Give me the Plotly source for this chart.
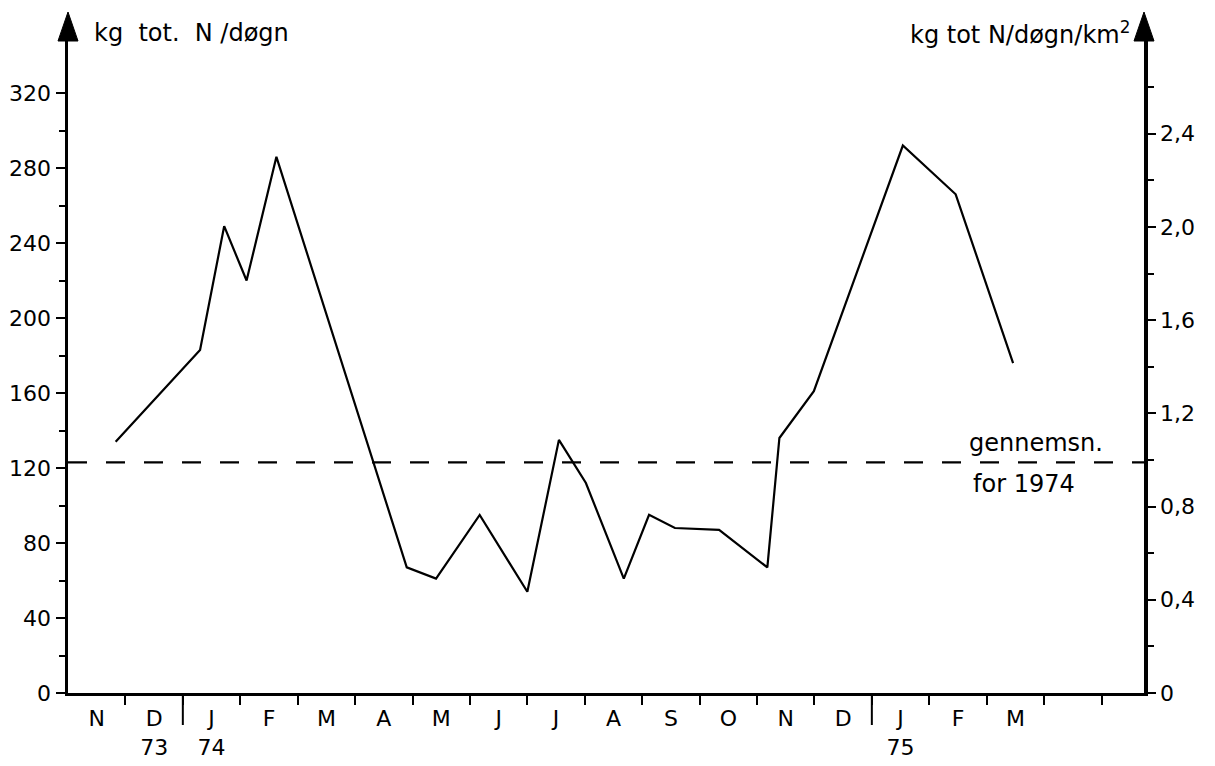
import plotly.graph_objects as go

# ---- data ----
# x: months elapsed since 1 Nov 1973 (0 = start of November 1973)
months_elapsed = [0.83, 2.30, 2.72, 3.11, 3.63, 5.90, 6.41, 7.17, 8.00, 8.55,
                  9.02, 9.68, 10.12, 10.57, 11.34, 12.18, 12.39, 12.99, 14.54,
                  15.46, 16.46]
n_load_kg = [134, 183, 249, 220, 286, 67, 61, 95, 54, 135,
             112, 61, 95, 88, 87, 67, 136, 161, 292, 266, 176]
avg_1974 = 123  # "gennemsn. for 1974"

month_labels = ["N", "D<br>73", "J<br>74", "F", "M", "A", "M", "J", "J", "A",
                "S", "O", "N", "D", "J<br>75", "F", "M"]
month_centers = [i + 0.5 for i in range(len(month_labels))]
month_bounds = list(range(1, 19))
year_breaks = [2, 14]
x_max = 18.74

left_ticks = list(range(0, 321, 40))
left_minor = list(range(20, 301, 40))
left_max = 348.3
right_ticks = [0, 0.4, 0.8, 1.2, 1.6, 2.0, 2.4]
right_ticktext = ["0", "0,4", "0,8", "1,2", "1,6", "2,0", "2,4"]
right_minor = [0.2, 0.6, 1.0, 1.4, 1.8, 2.2, 2.6]
right_max = 2.802

# ---- layout geometry (page pixels; body margin is removed below) ----
W, H = 1215, 766
AX_L, AX_R, AX_T, AX_B = 68, 1144, 40, 693   # pixel positions of the axes
ML, MR, MT, MB = AX_L, W - AX_R, AX_T, H - AX_B
PW, PH = AX_R - AX_L, AX_B - AX_T


def px(xp):
    return (xp - AX_L) / PW


def py(yp):
    return (AX_B - yp) / PH


FONT = "DejaVu Sans"
fs = 22
fs_t = 24

fig = go.Figure()
fig.add_trace(go.Scatter(x=months_elapsed, y=n_load_kg, mode="lines",
                         line=dict(color="black", width=2.2),
                         hoverinfo="skip"))
fig.add_trace(go.Scatter(x=[0, x_max], y=[avg_1974, avg_1974], mode="lines",
                         line=dict(color="black", width=2.4, dash="19px,19px"),
                         hoverinfo="skip"))
fig.add_trace(go.Scatter(x=[], y=[], yaxis="y2", hoverinfo="skip"))

shapes = []
# arrowheads on top of both vertical axes
for xa in (AX_L, AX_R):
    shapes.append(dict(type="path", xref="paper", yref="paper",
                       path=f"M {px(xa-10)},{py(41)} L {px(xa+10)},{py(41)} L {px(xa)},{py(12)} Z",
                       fillcolor="black", line=dict(color="black", width=1)))
# year separators below the x axis
for xb in year_breaks:
    shapes.append(dict(type="line", xref="x", yref="paper", x0=xb, x1=xb,
                       y0=0, y1=-32 / PH, line=dict(color="black", width=2)))

annotations = [
    dict(text="kg  tot.  N /døgn", xref="paper", yref="paper", x=px(92), y=py(33),
         xanchor="left", yanchor="middle", showarrow=False,
         font=dict(family=FONT, size=fs_t, color="black")),
    dict(text="kg tot N/døgn/km<sup>2</sup>", xref="paper", yref="paper",
         x=px(1132), y=py(33), xanchor="right", yanchor="middle", showarrow=False,
         font=dict(family=FONT, size=fs_t, color="black")),
    dict(text="gennemsn.", xref="paper", yref="paper", x=px(967), y=py(443),
         xanchor="left", yanchor="middle", showarrow=False,
         font=dict(family=FONT, size=fs_t, color="black")),
    dict(text="for 1974", xref="paper", yref="paper", x=px(971), y=py(484),
         xanchor="left", yanchor="middle", showarrow=False,
         font=dict(family=FONT, size=fs_t, color="black")),
]

fig.update_layout(
    width=W, height=H,
    margin=dict(l=ML, r=MR, t=MT, b=MB, pad=0, autoexpand=False),
    paper_bgcolor="white", plot_bgcolor="white",
    showlegend=False,
    font=dict(family=FONT, size=fs, color="black"),
    xaxis=dict(range=[0, x_max], showline=True, linewidth=3, linecolor="black",
               showgrid=False, zeroline=False, automargin=False,
               tickmode="array", tickvals=month_centers, ticktext=month_labels,
               ticks="", ticklabelstandoff=4,
               minor=dict(tickmode="array", tickvals=month_bounds, ticks="outside",
                          ticklen=9, tickwidth=2, tickcolor="black", showgrid=False)),
    yaxis=dict(range=[0, left_max], showline=True, linewidth=3.5, linecolor="black",
               showgrid=False, zeroline=False, automargin=False,
               tickmode="array", tickvals=left_ticks, ticks="outside",
               ticklen=9, tickwidth=2, tickcolor="black",
               minor=dict(tickmode="array", tickvals=left_minor, ticks="outside",
                          ticklen=6, tickwidth=2, tickcolor="black", showgrid=False)),
    yaxis2=dict(range=[0, right_max], overlaying="y", side="right", anchor="x",
                showline=True, linewidth=3.5, linecolor="black",
                showgrid=False, zeroline=False, automargin=False,
                tickmode="array", tickvals=right_ticks, ticktext=right_ticktext,
                ticks="outside", ticklen=8, tickwidth=2, tickcolor="black",
                minor=dict(tickmode="array", tickvals=right_minor, ticks="outside",
                           ticklen=6, tickwidth=2, tickcolor="black", showgrid=False)),
    shapes=shapes,
    annotations=annotations,
)

fig.write_html("out.html",
               config={"displayModeBar": False, "staticPlot": True},
               post_script="document.body.style.margin='0px';"
                           "document.body.style.overflow='hidden';")
